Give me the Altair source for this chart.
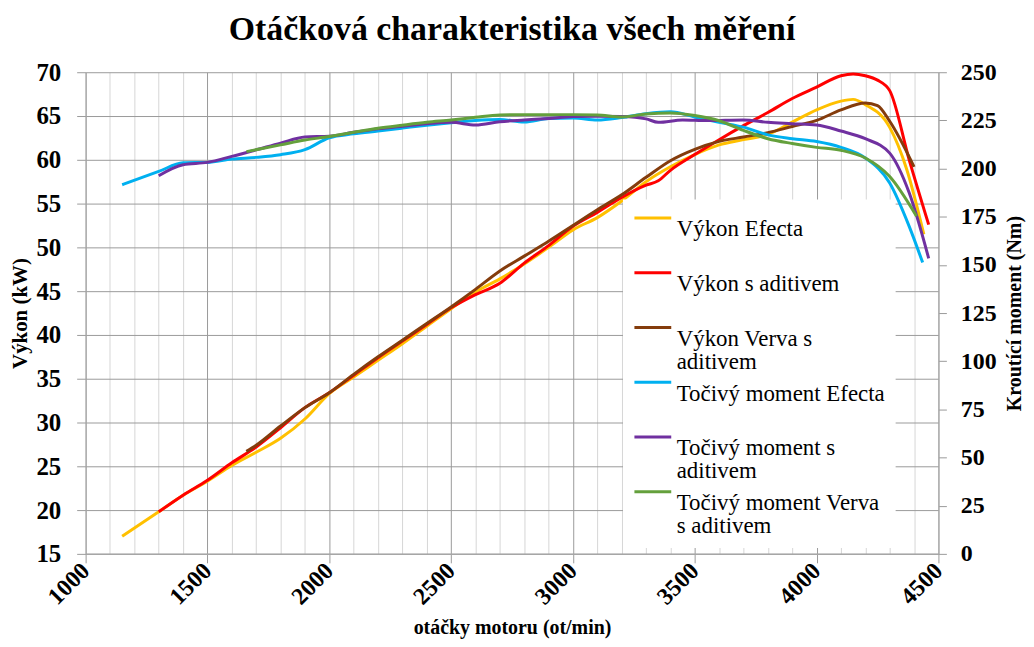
import altair as alt
import pandas as pd

TITLE = "Otáčková charakteristika všech měření"
X_TITLE = "otáčky motoru (ot/min)"
Y_LEFT_TITLE = "Výkon (kW)"
Y_RIGHT_TITLE = "Kroutící moment (Nm)"

SERIES = [
    "Výkon Efecta",
    "Výkon s aditivem",
    "Výkon Verva s aditivem",
    "Točivý moment Efecta",
    "Točivý moment s aditivem",
    "Točivý moment Verva s aditivem",
]
COLORS = ["#FFC000", "#FF0000", "#843C0C", "#00B0F0", "#7030A0", "#64A03C"]
LEGEND_LINES = [
    ["Výkon Efecta"],
    ["Výkon s aditivem"],
    ["Výkon Verva s", "aditivem"],
    ["Točivý moment Efecta"],
    ["Točivý moment s", "aditivem"],
    ["Točivý moment Verva", "s aditivem"],
]

X_TICKS = list(range(1000, 4501, 100))
KW_TICKS = list(range(15, 71, 5))
NM_TICKS = list(range(0, 251, 25))

# ---- power (kW) ----
rpm_vykon_efecta = [1150, 1300, 1400, 1500, 1600, 1700, 1800, 1900, 2000, 2100, 2200, 2300,
                    2400, 2500, 2600, 2700, 2800, 2900, 3000, 3100, 3200, 3300, 3400, 3500,
                    3600, 3700, 3800, 3900, 4000, 4100, 4150, 4200, 4300, 4370, 4440]
vykon_efecta = [17.0, 19.8, 21.7, 23.3, 25.1, 26.6, 28.2, 30.4, 33.3, 35.2, 37.1, 39.0,
                41.0, 43.0, 44.9, 46.4, 48.1, 50.0, 52.0, 53.4, 55.3, 57.5, 59.2, 60.6,
                61.7, 62.3, 62.9, 64.3, 65.7, 66.7, 66.9, 66.3, 63.7, 58.9, 51.5]

rpm_vykon_aditiv = [1300, 1400, 1500, 1600, 1700, 1800, 1900, 2000, 2100, 2200, 2300, 2400,
                    2500, 2600, 2700, 2800, 2900, 3000, 3100, 3200, 3300, 3350, 3400, 3500,
                    3600, 3700, 3800, 3900, 4000, 4100, 4150, 4200, 4250, 4300, 4380, 4460]
vykon_aditiv = [19.8, 21.7, 23.4, 25.4, 27.2, 29.4, 31.7, 33.4, 35.4, 37.4, 39.3, 41.2,
                43.1, 44.6, 45.9, 48.2, 50.2, 52.4, 54.0, 55.7, 57.1, 57.6, 58.8, 60.6,
                62.3, 63.9, 65.4, 67.0, 68.3, 69.6, 69.8, 69.6, 69.1, 67.9, 60.0, 52.6]

rpm_vykon_verva = [1660, 1700, 1800, 1900, 2000, 2100, 2200, 2300, 2400, 2500, 2600, 2700,
                   2800, 2900, 3000, 3100, 3200, 3300, 3400, 3500, 3600, 3700, 3800, 3900,
                   4000, 4100, 4200, 4250, 4300, 4400]
vykon_verva = [26.7, 27.4, 29.6, 31.7, 33.4, 35.5, 37.5, 39.4, 41.3, 43.2, 45.2, 47.3,
               49.0, 50.7, 52.5, 54.3, 56.0, 58.0, 59.9, 61.2, 62.1, 62.6, 63.1, 63.8,
               64.5, 65.7, 66.5, 66.2, 64.4, 59.2]

# ---- torque (Nm) ----
rpm_moment_efecta = [1150, 1300, 1400, 1500, 1600, 1700, 1800, 1900, 2000, 2100, 2200, 2300,
                     2400, 2500, 2600, 2700, 2800, 2900, 3000, 3100, 3200, 3300, 3400, 3500,
                     3600, 3700, 3800, 3900, 4000, 4100, 4200, 4300, 4380, 4435]
moment_efecta = [191.6, 198.5, 203.0, 203.2, 204.9, 205.8, 207.2, 209.8, 216.0, 218.0, 219.5, 221.0,
                 222.5, 223.8, 225.0, 225.5, 224.2, 226.0, 226.3, 225.2, 226.5, 228.5, 229.5, 226.8,
                 224.0, 221.5, 217.5, 215.5, 214.0, 211.0, 205.5, 192.5, 170.0, 151.3]

rpm_moment_aditiv = [1300, 1400, 1500, 1600, 1700, 1800, 1900, 2000, 2100, 2200, 2300, 2400,
                     2500, 2600, 2700, 2800, 2900, 3000, 3100, 3200, 3300, 3350, 3450, 3550,
                     3700, 3800, 3900, 4000, 4100, 4200, 4300, 4380, 4460]
moment_aditiv = [196.3, 202.0, 203.2, 206.3, 209.7, 213.2, 216.4, 216.8, 218.8, 220.6, 222.0, 223.3,
                 224.0, 222.6, 224.3, 225.2, 226.0, 227.0, 227.2, 227.0, 225.8, 224.0, 225.2, 224.9,
                 225.2, 224.0, 223.3, 222.6, 219.5, 215.5, 208.0, 187.4, 153.4]

rpm_moment_verva = [1660, 1800, 1900, 2000, 2100, 2200, 2300, 2400, 2500, 2600, 2700, 2800,
                    2900, 3000, 3100, 3200, 3300, 3400, 3500, 3600, 3700, 3800, 3900, 4000,
                    4100, 4200, 4300, 4410]
moment_verva = [208.8, 212.3, 214.8, 216.6, 218.8, 220.9, 222.5, 224.0, 225.2, 226.6, 227.8, 228.0,
                228.0, 228.0, 227.8, 226.8, 228.3, 228.8, 227.5, 224.8, 219.8, 215.5, 213.0, 211.0,
                209.5, 205.5, 195.9, 175.3]


def frame(name, rpm, vals):
    return pd.DataFrame({"serie": name, "rpm": rpm, "hodnota": vals})


power_frames = [
    frame(SERIES[0], rpm_vykon_efecta, vykon_efecta),
    frame(SERIES[1], rpm_vykon_aditiv, vykon_aditiv),
    frame(SERIES[2], rpm_vykon_verva, vykon_verva),
]
torque_frames = [
    frame(SERIES[3], rpm_moment_efecta, moment_efecta),
    frame(SERIES[4], rpm_moment_aditiv, moment_aditiv),
    frame(SERIES[5], rpm_moment_verva, moment_verva),
]

FONT = "Liberation Serif"
GRID_MAJOR = "#9a9a9a"
GRID_MINOR = "#d6d6d6"
LEGEND_LINE_HEIGHT = 23


def js_str(s):
    return "'" + s.replace("'", "\\'") + "'"


label_expr = "[datum.label, ' ']"
for name, lines in reversed(list(zip(SERIES, LEGEND_LINES))):
    full = lines if len(lines) == 2 else lines + [" "]
    arr = "[" + ", ".join(js_str(l) for l in full) + "]"
    label_expr = f"datum.label === {js_str(name)} ? {arr} : ({label_expr})"

legend = alt.Legend(
    title=None,
    orient="none",
    legendX=540,
    legendY=128,
    fillColor="white",
    padding=10,
    rowPadding=0,
    symbolType="M-1,-0.62H1",
    symbolSize=1369,
    symbolStrokeWidth=3,
    labelFont=FONT,
    labelFontSize=23,
    labelColor="black",
    labelLimit=400,
    labelOffset=4,
    labelBaseline="middle",
    labelExpr=label_expr,
)

color = alt.Color(
    "serie:N",
    scale=alt.Scale(domain=SERIES, range=COLORS),
    legend=legend,
)

x_axis = alt.Axis(
    values=X_TICKS,
    title=X_TITLE,
    titleFont=FONT,
    titleFontSize=20,
    titleFontWeight="bold",
    titleColor="black",
    titlePadding=9,
    labelExpr="datum.value % 500 === 0 ? datum.label : ''",
    labelAngle=315,
    labelAlign="right",
    labelBaseline="middle",
    labelFont=FONT,
    labelFontSize=24,
    labelFontWeight="bold",
    labelColor="black",
    labelPadding=4,
    labelOverlap=False,
    labelFlush=False,
    format="d",
    grid=True,
    gridColor={"condition": {"test": "datum.value % 500 === 0", "value": GRID_MAJOR}, "value": GRID_MINOR},
    gridWidth=1,
    tickOpacity={"condition": {"test": "datum.value % 500 === 0", "value": 1}, "value": 0},
    tickColor=GRID_MAJOR,
    tickSize=9,
    domainColor="#a6a6a6",
    domainWidth=1.5,
)

x = alt.X("rpm:Q", scale=alt.Scale(domain=[1000, 4500], nice=False, zero=False), axis=x_axis)

kw_axis = alt.Axis(
    orient="left",
    values=KW_TICKS,
    title=Y_LEFT_TITLE,
    titleFont=FONT,
    titleFontSize=21,
    titleFontWeight="bold",
    titleColor="black",
    titlePadding=5,
    labelFont=FONT,
    labelFontSize=25,
    labelFontWeight="bold",
    labelColor="black",
    labelPadding=16,
    format="d",
    grid=True,
    gridColor=GRID_MAJOR,
    gridWidth=1,
    tickColor=GRID_MAJOR,
    tickSize=9,
    domainColor="#a6a6a6",
)

nm_axis = alt.Axis(
    orient="right",
    values=NM_TICKS,
    title=Y_RIGHT_TITLE,
    titleAngle=270,
    titleBaseline="top",
    titleFont=FONT,
    titleFontSize=20,
    titleFontWeight="bold",
    titleColor="black",
    titlePadding=8,
    labelFont=FONT,
    labelFontSize=24,
    labelFontWeight="bold",
    labelColor="black",
    labelPadding=14,
    format="d",
    grid=False,
    tickColor=GRID_MAJOR,
    tickSize=8,
    domainColor="#a6a6a6",
)

y_kw = alt.Y("hodnota:Q", scale=alt.Scale(domain=[15, 70], nice=False, zero=False), axis=kw_axis)
y_nm = alt.Y("hodnota:Q", scale=alt.Scale(domain=[0, 250], nice=False, zero=False), axis=nm_axis)


def line(df, y):
    return alt.Chart(df).mark_line(interpolate="monotone", strokeWidth=3).encode(
        x=x, y=y, color=color
    )


power = alt.layer(*[line(df, y_kw) for df in power_frames])
torque = alt.layer(*[line(df, y_nm) for df in torque_frames])

chart = (
    alt.layer(power, torque)
    .resolve_scale(y="independent")
    .properties(
        width=857,
        height=484,
        title=alt.TitleParams(
            text=TITLE,
            font=FONT,
            fontSize=34,
            fontWeight="bold",
            color="black",
            anchor="middle",
            offset=13,
        ),
        autosize=alt.AutoSizeParams(type="none"),
        padding={"left": 78, "top": 63, "right": 88, "bottom": 84},
    )
    .configure(
        style={"guide-label": {"lineHeight": LEGEND_LINE_HEIGHT}},
        view=alt.ViewConfig(strokeWidth=0),
    )
)

chart.save("out.html", embed_options={"renderer": "svg", "actions": False})
